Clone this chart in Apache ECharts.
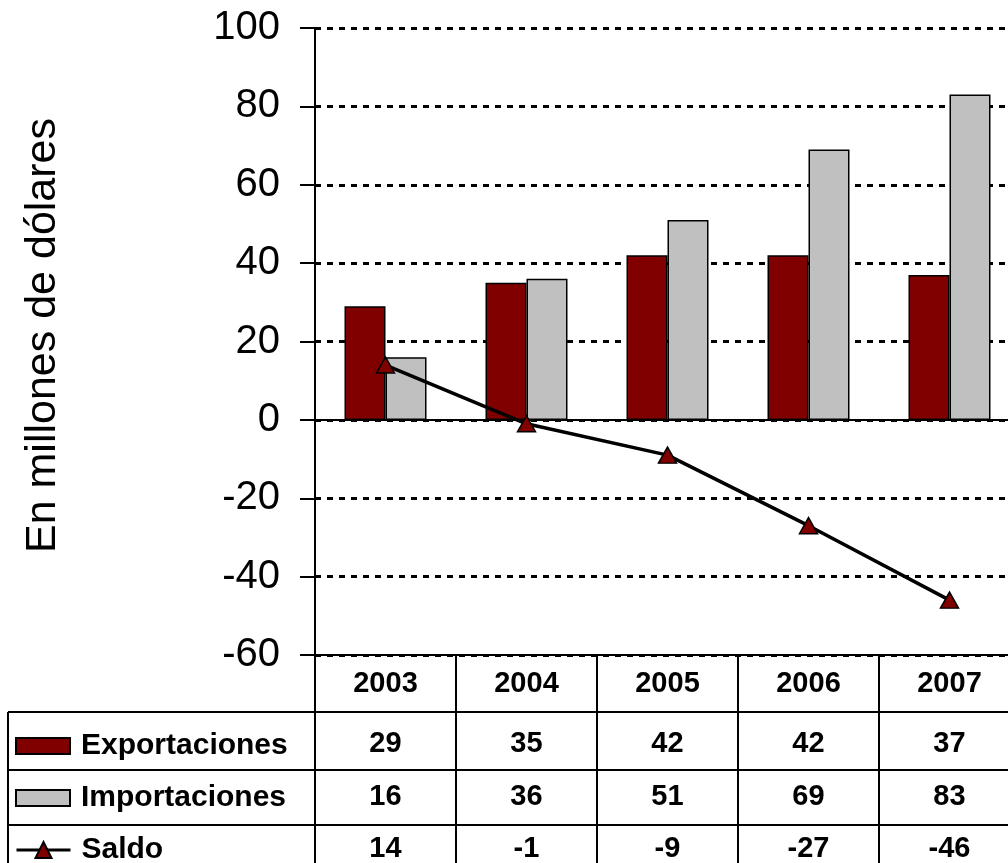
<!DOCTYPE html>
<html>
<head>
<meta charset="utf-8">
<script src="https://cdn.jsdelivr.net/npm/echarts@6/dist/echarts.min.js"></script>
<style>
  html, body { margin: 0; padding: 0; background: #fff; }
  #chart { width: 1008px; height: 863px; }
</style>
</head>
<body>
<div id="chart"></div>
<script>
const years = ['2003', '2004', '2005', '2006', '2007'];
const exportaciones = [29, 35, 42, 42, 37];
const importaciones = [16, 36, 51, 69, 83];
const saldo = [14, -1, -9, -27, -46];

const FONT = '"Liberation Sans", Arial, sans-serif';
const tableFont = { fontFamily: FONT, fontSize: 29, fontWeight: 'bold', color: '#000' };

// grid bottom sits at y=655; table rows below it
const rowCenters = [29, 89, 142, 194];   // label centre, px below the grid bottom

function tableAxis(data, margin, extra) {
  return Object.assign({
    type: 'category',
    gridIndex: 0,
    position: 'bottom',
    data: data,
    axisLine: { show: false, onZero: false },
    axisTick: { show: false },
    splitLine: { show: false },
    axisLabel: Object.assign({ margin: margin, verticalAlign: 'middle', interval: 0 }, tableFont)
  }, extra || {});
}

const chart = echarts.init(document.getElementById('chart'));

const line = (x1, y1, x2, y2) => ({
  type: 'line', silent: true,
  shape: { x1, y1, x2, y2 },
  style: { stroke: '#000', lineWidth: 2 }
});

chart.setOption({
  animation: false,
  backgroundColor: '#fff',
  grid: { left: 315, right: -12, top: 28, bottom: 208, outerBoundsMode: 'none' },
  legend: [
    { data: [{ name: 'Exportaciones', icon: 'rect' }], left: 15, top: 731, itemHeight: 16 },
    { data: [{ name: 'Importaciones', icon: 'rect' }], left: 15, top: 783, itemHeight: 16 },
    { data: ['Saldo'], left: 15, top: 835, itemHeight: 20 }
  ].map(l => Object.assign(l, {
    orient: 'horizontal', itemWidth: 54, selectedMode: false,
    padding: 0,
    lineStyle: { width: 3, color: '#000' },
    textStyle: Object.assign({}, tableFont, { fontSize: 30, padding: [0, 0, 0, 6] })
  })),
  xAxis: [
    {
      type: 'category',
      data: years,
      axisLine: { onZero: true, lineStyle: { color: '#000', width: 2 } },
      axisTick: { show: false },
      axisLabel: { show: false },
      splitLine: { show: false }
    },
    tableAxis(years, rowCenters[0], {
      axisLine: { show: true, onZero: false, lineStyle: { color: '#000', width: 2 } },
      axisTick: { show: true, length: 208, lineStyle: { color: '#000', width: 2 } }
    }),
    tableAxis(exportaciones.map(String), rowCenters[1]),
    tableAxis(importaciones.map(String), rowCenters[2]),
    tableAxis(saldo.map(String), rowCenters[3])
  ],
  yAxis: {
    type: 'value',
    min: -60, max: 100, interval: 20,
    name: 'En millones de dólares',
    nameLocation: 'middle',
    nameRotate: 90,
    nameGap: 250,
    nameTextStyle: { fontFamily: FONT, fontSize: 43, color: '#000', padding: [0, 0, 0, 12] },
    axisLine: { show: true, lineStyle: { color: '#000', width: 2 } },
    axisTick: { show: true, length: 15, lineStyle: { color: '#000', width: 2 } },
    axisLabel: { margin: 35, fontFamily: FONT, fontSize: 40, color: '#000' },
    splitLine: { show: true, lineStyle: { color: '#000', width: 3, type: [6, 6] } }
  },
  graphic: [
    line(8, 712, 1008, 712),
    line(8, 770, 1008, 770),
    line(8, 825, 1008, 825),
    line(8, 712, 8, 863)
  ],
  series: [
    {
      name: 'Exportaciones', type: 'bar', data: exportaciones,
      barWidth: 41, barGap: '0%',
      itemStyle: { color: '#800000', borderColor: '#000', borderWidth: 1.5 }
    },
    {
      name: 'Importaciones', type: 'bar', data: importaciones,
      barWidth: 41,
      itemStyle: { color: '#c0c0c0', borderColor: '#000', borderWidth: 1.5 }
    },
    {
      name: 'Saldo', type: 'line', data: saldo,
      symbol: 'triangle', symbolSize: [18, 16],
      lineStyle: { color: '#000', width: 3.5 },
      itemStyle: { color: '#800000', borderColor: '#000', borderWidth: 1.5 },
      z: 5
    }
  ]
});
</script>
</body>
</html>
